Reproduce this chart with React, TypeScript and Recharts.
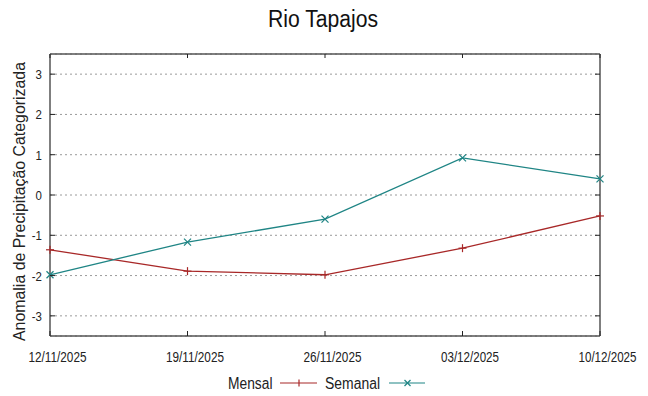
import React from 'react';
import { LineChart, Line, XAxis, YAxis, CartesianGrid, ReferenceLine } from 'recharts';

const dates = ['12/11/2025', '19/11/2025', '26/11/2025', '03/12/2025', '10/12/2025'];
const mensal = [-1.36, -1.89, -1.98, -1.32, -0.52];
const semanal = [-1.98, -1.17, -0.6, 0.92, 0.4];
const yTicks = [-3, -2, -1, 0, 1, 2, 3];

const data = dates.map((d, i) => ({ date: d, mensal: mensal[i], semanal: semanal[i] }));

const W = 648;
const H = 396;
const LEFT = 50;
const RIGHT = 600;
const TOP = 54;
const BOTTOM = 336;

const RED = '#a82828';
const TEAL = '#1f8585';
const FRAME = '#555';
const SANS = '"Liberation Sans", Arial, sans-serif';

function PlusDot(props: any) {
  const { cx, cy } = props;
  if (cx == null || cy == null) return null;
  return (
    <g>
      <line x1={cx - 4} y1={cy} x2={cx + 4} y2={cy} stroke={RED} strokeWidth={1.2} />
      <line x1={cx} y1={cy - 4} x2={cx} y2={cy + 4} stroke={RED} strokeWidth={1.2} />
    </g>
  );
}

function CrossDot(props: any) {
  const { cx, cy } = props;
  if (cx == null || cy == null) return null;
  return (
    <g>
      <line x1={cx - 3.5} y1={cy - 3.5} x2={cx + 3.5} y2={cy + 3.5} stroke={TEAL} strokeWidth={1.2} />
      <line x1={cx - 3.5} y1={cy + 3.5} x2={cx + 3.5} y2={cy - 3.5} stroke={TEAL} strokeWidth={1.2} />
    </g>
  );
}

// gnuplot puts the date labels a bit to the right of their ticks
function XTick(props: any) {
  const c = props.payload.coordinate;
  return (
    <g>
      <line x1={c} y1={BOTTOM} x2={c} y2={BOTTOM - 5} stroke="#222" strokeWidth={1} />
      <line x1={c} y1={TOP} x2={c} y2={TOP + 4} stroke="#222" strokeWidth={1} />
      <text
        x={c + 7.5} y={362} textAnchor="middle" fontSize={14} fontFamily={SANS} fill="#222"
        textLength={58} lengthAdjust="spacingAndGlyphs"
      >
        {props.payload.value}
      </text>
    </g>
  );
}

function YTick(props: any) {
  const c = props.payload.coordinate;
  return (
    <g>
      <line x1={LEFT} y1={c} x2={LEFT + 5} y2={c} stroke="#222" strokeWidth={1} />
      <line x1={RIGHT - 5} y1={c} x2={RIGHT} y2={c} stroke="#222" strokeWidth={1} />
      <text
        transform={`translate(42, ${c + 5}) scale(0.85, 1)`} textAnchor="end"
        fontSize={13.5} fontFamily={SANS} fill="#222"
      >
        {props.payload.value}
      </text>
    </g>
  );
}

export default function App() {
  return (
    <div style={{ position: 'absolute', left: 0, top: 0, width: W, height: H, background: '#fff' }}>
      <LineChart width={W} height={H} data={data} margin={{ top: TOP, right: W - RIGHT, bottom: 0, left: 0 }}>
        <CartesianGrid vertical={false} stroke="#9a9a9a" strokeDasharray="2 3" />
        <XAxis
          dataKey="date"
          height={H - BOTTOM}
          interval={0}
          tickLine={false}
          axisLine={{ stroke: FRAME, strokeWidth: 1.5 }}
          tick={<XTick />}
        />
        <YAxis
          width={LEFT}
          domain={[-3.5, 3.5]}
          ticks={yTicks}
          allowDataOverflow
          tickLine={false}
          axisLine={{ stroke: FRAME, strokeWidth: 1.5 }}
          tick={<YTick />}
        />
        <ReferenceLine y={3.5} stroke={FRAME} strokeWidth={1.5} />
        <ReferenceLine x="10/12/2025" stroke={FRAME} strokeWidth={1.5} />
        <Line
          dataKey="mensal"
          stroke={RED}
          strokeWidth={1.3}
          dot={<PlusDot />}
          activeDot={false}
          isAnimationActive={false}
        />
        <Line
          dataKey="semanal"
          stroke={TEAL}
          strokeWidth={1.3}
          dot={<CrossDot />}
          activeDot={false}
          isAnimationActive={false}
        />
      </LineChart>

      {/* title, y label and legend, squeezed like the gnuplot original */}
      <svg width={W} height={H} style={{ position: 'absolute', left: 0, top: 0, pointerEvents: 'none' }}>
        <text
          x={323} y={27} textAnchor="middle" fontSize={23} fontFamily={SANS} fill="#111"
          textLength={110} lengthAdjust="spacingAndGlyphs"
        >
          Rio Tapajos
        </text>
        <text
          transform="translate(24.5,201.5) rotate(-90)" textAnchor="middle" fontSize={16} fontFamily={SANS}
          fill="#222" textLength={279} lengthAdjust="spacingAndGlyphs"
        >
          Anomalia de Precipitação Categorizada
        </text>

        <text x={228} y={388.5} fontSize={15.8} fontFamily={SANS} fill="#222" textLength={44.5} lengthAdjust="spacingAndGlyphs">
          Mensal
        </text>
        <line x1={280} y1={383} x2={317} y2={383} stroke={RED} strokeWidth={1.2} />
        <line x1={299} y1={379.5} x2={299} y2={386.5} stroke={RED} strokeWidth={1.2} />

        <text x={325} y={388.5} fontSize={15.8} fontFamily={SANS} fill="#222" textLength={55} lengthAdjust="spacingAndGlyphs">
          Semanal
        </text>
        <line x1={389} y1={383} x2={425} y2={383} stroke={TEAL} strokeWidth={1.2} />
        <line x1={404.5} y1={380} x2={410.5} y2={386} stroke={TEAL} strokeWidth={1.2} />
        <line x1={404.5} y1={386} x2={410.5} y2={380} stroke={TEAL} strokeWidth={1.2} />
      </svg>
    </div>
  );
}
